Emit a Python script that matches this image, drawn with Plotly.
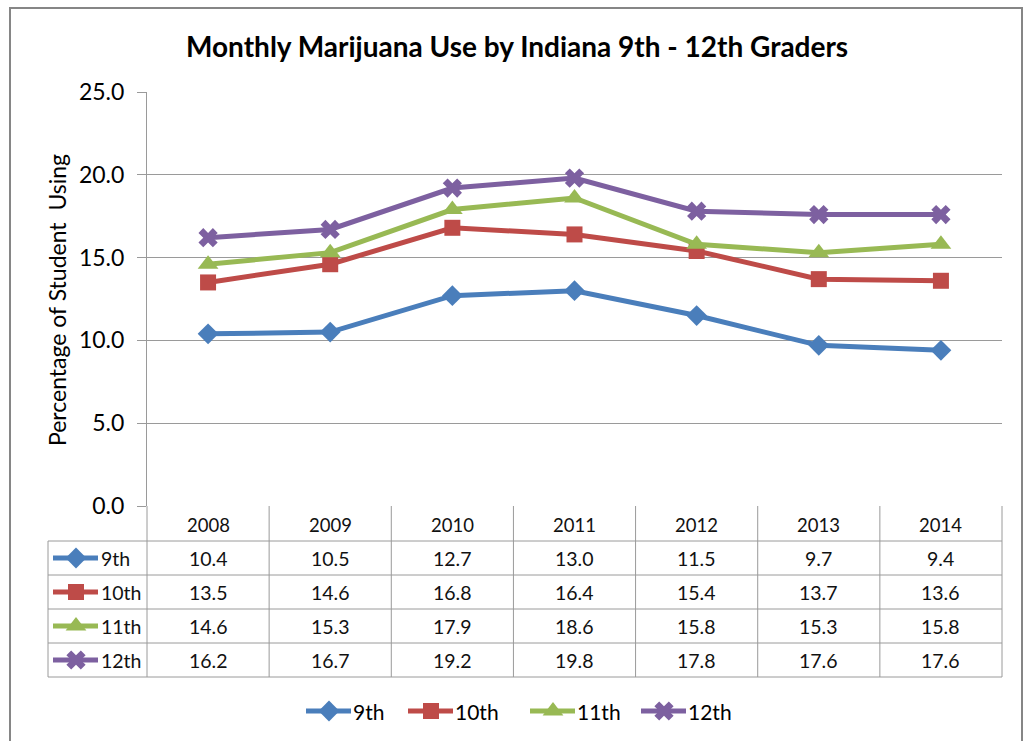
import plotly.graph_objects as go

# ---- data ----
years = ["2008", "2009", "2010", "2011", "2012", "2013", "2014"]
grades = ["9th", "10th", "11th", "12th"]
v9 = [10.4, 10.5, 12.7, 13.0, 11.5, 9.7, 9.4]
v10 = [13.5, 14.6, 16.8, 16.4, 15.4, 13.7, 13.6]
v11 = [14.6, 15.3, 17.9, 18.6, 15.8, 15.3, 15.8]
v12 = [16.2, 16.7, 19.2, 19.8, 17.8, 17.6, 17.6]
y_ticks = [0, 5, 10, 15, 20, 25]

series = [v9, v10, v11, v12]
colors = ["#4A7EBB", "#BE4B48", "#98B954", "#7D60A0"]
symbols = ["diamond", "square", "triangle-up", "x"]
msizes = [16, 16, 18, 17]

W, H = 1024, 741
PL, PR, PT, PB = 147, 1002, 92, 506  # plot area pixels
FONT = "Lato, 'Open Sans', sans-serif"
GRID = "#9A9A9A"

fig = go.Figure()

for name, vals, c, s, ms in zip(grades, series, colors, symbols, msizes):
    fig.add_trace(go.Scatter(
        x=years, y=vals, name=name, mode="lines+markers",
        line=dict(color=c, width=5),
        marker=dict(symbol=s, size=ms, color=c, line=dict(width=0)),
        xaxis="x", yaxis="y", showlegend=False))

# ---- table (pixel coordinate overlay) ----
ncol = len(years)
colw = (PR - PL) / ncol
header_bottom = 541
rowh = 34
label_left = 48
shapes = []
annotations = []

# outer frame
shapes.append(dict(type="rect", xref="x2", yref="y2", x0=10, y0=8, x1=1022, y1=760,
                   line=dict(color="#868686", width=2)))

table_bottom = header_bottom + rowh * len(grades)
for k in range(ncol + 1):
    x = PL + k * colw
    shapes.append(dict(type="line", xref="x2", yref="y2", x0=x, x1=x, y0=PB, y1=table_bottom,
                       line=dict(color=GRID, width=1)))
shapes.append(dict(type="line", xref="x2", yref="y2", x0=label_left, x1=label_left,
                   y0=header_bottom, y1=table_bottom, line=dict(color=GRID, width=1)))
for r in range(len(grades) + 1):
    y = header_bottom + r * rowh
    shapes.append(dict(type="line", xref="x2", yref="y2", x0=label_left, x1=PR, y0=y, y1=y,
                       line=dict(color=GRID, width=1)))

for k, yr in enumerate(years):
    annotations.append(dict(xref="x2", yref="y2", x=PL + (k + 0.5) * colw, y=(PB + header_bottom) / 2 + 1,
                            text=yr, showarrow=False, font=dict(size=18.5, color="#111", family=FONT)))


def key(xc, yc, c, s, ms):
    fig.add_trace(go.Scatter(
        x=[xc - 23, xc, xc + 22], y=[yc, yc, yc], mode="lines", line=dict(color=c, width=5),
        xaxis="x2", yaxis="y2", showlegend=False, hoverinfo="skip"))
    fig.add_trace(go.Scatter(
        x=[xc], y=[yc], mode="markers",
        marker=dict(symbol=s, size=ms, color=c, line=dict(width=0)),
        xaxis="x2", yaxis="y2", showlegend=False, hoverinfo="skip"))


for r, (name, vals, c, s, ms) in enumerate(zip(grades, series, colors, symbols, msizes)):
    yc = header_bottom + (r + 0.5) * rowh
    for k, v in enumerate(vals):
        annotations.append(dict(xref="x2", yref="y2", x=PL + (k + 0.5) * colw, y=yc,
                                text=f"{v:.1f}", showarrow=False,
                                font=dict(size=19.5, color="#111", family=FONT)))
    annotations.append(dict(xref="x2", yref="y2", x=99, y=yc, xanchor="left",
                            text=name, showarrow=False, font=dict(size=19.5, color="#111", family=FONT)))
    key(76, yc, c, s, ms)

# bottom legend (drawn manually)
leg_x = [329, 431, 553, 664]
for name, c, s, ms, lx in zip(grades, colors, symbols, msizes, leg_x):
    key(lx, 711, c, s, ms)
    annotations.append(dict(xref="x2", yref="y2", x=lx + 22, y=711, xanchor="left",
                            text=name, showarrow=False, font=dict(size=21, color="#000", family=FONT)))

# title + y-axis title
annotations.append(dict(xref="x2", yref="y2", x=517, y=46, text="<b>Monthly Marijuana Use by Indiana 9th - 12th Graders</b>",
                        showarrow=False, font=dict(size=28, color="#000", family=FONT)))
annotations.append(dict(xref="x2", yref="y2", x=57, y=300, text="Percentage of Student  Using",
                        textangle=-90, showarrow=False, font=dict(size=23, color="#000", family=FONT)))

fig.update_layout(
    width=W, height=H,
    margin=dict(l=0, r=0, t=0, b=0, pad=0),
    paper_bgcolor="white", plot_bgcolor="rgba(0,0,0,0)",
    font=dict(family=FONT, color="#000"),
    xaxis=dict(domain=[PL / W, PR / W], anchor="y", type="category", range=[-0.5, ncol - 0.5],
               showticklabels=False, showgrid=False, zeroline=False, showline=False, ticks="",
               automargin=False),
    yaxis=dict(domain=[(H - PB) / H, (H - PT) / H], anchor="x", range=[0, 25],
               tickvals=y_ticks, ticktext=[f"{t:.1f}" for t in y_ticks],
               showgrid=True, gridcolor=GRID, gridwidth=1, zeroline=False,
               showline=True, linecolor=GRID, linewidth=1,
               ticks="outside", ticklen=9, tickcolor=GRID, ticklabelstandoff=8,
               tickfont=dict(size=23, color="#000", family=FONT), automargin=False),
    xaxis2=dict(domain=[0, 1], anchor="y2", range=[0, W], visible=False, fixedrange=True,
                automargin=False),
    yaxis2=dict(domain=[0, 1], anchor="x2", range=[H, 0], visible=False, fixedrange=True,
                automargin=False),
    shapes=shapes,
    annotations=annotations,
    showlegend=False,
)

fig.write_html("out.html", config={"displayModeBar": False},
               post_script="document.body.style.margin='0px';document.body.style.overflow='hidden';")
